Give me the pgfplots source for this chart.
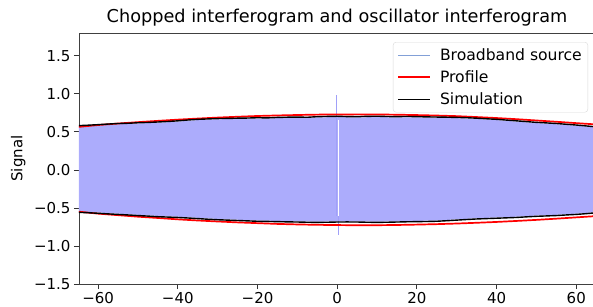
\documentclass[border=0pt]{standalone}
\usepackage{fontspec}
\setmainfont{DejaVu Sans}
\usepackage{pgfplots}
\pgfplotsset{compat=1.18}
\definecolor{bbfill}{RGB}{172,172,252}
\definecolor{bbspike}{RGB}{160,160,248}
\definecolor{bbline}{RGB}{130,160,215}
\definecolor{prof}{RGB}{255,0,0}
\begin{document}
\begin{tikzpicture}
\begin{axis}[
  at={(0,0)}, anchor=south west,
  scale only axis, width=516pt, height=251pt,
  xmin=-64.8, xmax=64.7, ymin=-1.5, ymax=1.8,
  xtick={-60,-40,-20,0,20,40,60},
  xticklabels={−60,−40,−20,0,20,40,60},
  ytick={-1.5,-1,-0.5,0,0.5,1,1.5},
  yticklabels={−1.5,−1.0,−0.5,0.0,0.5,1.0,1.5},
  tick align=outside, tick pos=left,
  major tick length=5pt,
  tick style={black!80, line width=0.8pt},
  axis line style={black!75, line width=0.8pt},
  ticklabel style={font=\fontsize{15}{18}\selectfont},
  title={Chopped interferogram and oscillator interferogram},
  title style={font=\fontsize{17.7}{20}\selectfont, at={(0.5,1)}, anchor=base, yshift=5pt, inner sep=0pt},
  ylabel={Signal},
  ylabel style={font=\fontsize{15}{18}\selectfont, at={(axis description cs:-0.118,0.5)}, anchor=center},
  legend cell align=left,
  legend style={at={(1,1)}, anchor=north east, xshift=-7pt, yshift=-9pt, draw=black!15, rounded corners=3pt,
    font=\fontsize{15.6}{18}\selectfont, row sep=5pt, inner xsep=4pt, inner ysep=4pt},
]
% Broadband source (dense fringes, drawn as their filled span)
\addplot[fill=bbfill, draw=none, forget plot] coordinates {
(-66,0.565) (-65,0.565) (-60,0.585) (-55,0.60) (-50,0.61) (-45,0.62) (-40,0.635) (-35,0.655) (-30,0.665)
(-25,0.67) (-20,0.675) (-15,0.68) (-10,0.685) (-5,0.69) (0,0.695) (5,0.69) (10,0.695) (15,0.69) (20,0.69)
(25,0.685) (30,0.68) (35,0.67) (40,0.655) (45,0.635) (50,0.615) (55,0.60) (60,0.58) (65,0.56) (66,0.56)
(66,-0.555) (65,-0.555) (60,-0.575) (55,-0.59) (50,-0.60) (45,-0.615) (40,-0.625) (35,-0.635) (30,-0.65)
(25,-0.665) (20,-0.67) (15,-0.675) (10,-0.68) (5,-0.675) (0,-0.675) (-5,-0.68) (-10,-0.675) (-15,-0.67)
(-20,-0.665) (-25,-0.655) (-30,-0.645) (-35,-0.63) (-40,-0.615) (-45,-0.605) (-50,-0.59) (-55,-0.575)
(-60,-0.56) (-65,-0.55) (-66,-0.55)
} -- cycle;
\addplot[bbspike, line width=1.2pt, forget plot] coordinates {(-0.25,-0.6) (-0.25,0.98)};
\addplot[bbspike, line width=1.2pt, forget plot] coordinates {(0.3,-0.85) (0.3,-0.6)};
\addplot[white, line width=0.8pt, forget plot] coordinates {(0.25,-0.6) (0.25,0.66)};
% Profile
\addplot[draw=prof, line width=1.7pt, forget plot] coordinates {
(-65,0.565) (-60,0.590) (-55,0.610) (-50,0.628) (-45,0.645) (-40,0.661) (-35,0.675) (-30,0.688) (-25,0.699)
(-20,0.709) (-15,0.716) (-10,0.722) (-5,0.727) (0,0.729) (5,0.730) (10,0.729) (15,0.726) (20,0.721)
(25,0.715) (30,0.707) (35,0.695) (40,0.682) (45,0.667) (50,0.650) (55,0.633) (60,0.615) (65,0.598)
};
\addplot[draw=prof, line width=1.7pt, forget plot] coordinates {
(-65,-0.548) (-60,-0.575) (-55,-0.595) (-50,-0.615) (-45,-0.632) (-40,-0.650) (-35,-0.665) (-30,-0.678)
(-25,-0.690) (-20,-0.700) (-15,-0.710) (-10,-0.717) (-5,-0.722) (0,-0.725) (5,-0.728) (10,-0.727)
(15,-0.724) (20,-0.719) (25,-0.713) (30,-0.705) (35,-0.695) (40,-0.684) (45,-0.671) (50,-0.657)
(55,-0.641) (60,-0.624) (65,-0.607)
};
% Simulation
\addplot[draw=black, line width=1.4pt, forget plot] coordinates {
(-65,0.582) (-62.5,0.588) (-60,0.595) (-57.5,0.603) (-55,0.610) (-52.5,0.613) (-50,0.620) (-47.5,0.624)
(-45,0.630) (-42.5,0.637) (-40,0.645) (-37.5,0.656) (-35,0.665) (-32.5,0.670) (-30,0.675) (-27.5,0.677)
(-25,0.680) (-22.5,0.682) (-20,0.686) (-17.5,0.684) (-15,0.690) (-12.5,0.693) (-10,0.695) (-7.5,0.692)
(-5,0.700) (-2.5,0.703) (0,0.705) (2.5,0.701) (5,0.700) (7.5,0.704) (10,0.706) (12.5,0.702) (15,0.700)
(17.5,0.703) (20,0.700) (22.5,0.697) (25,0.695) (27.5,0.693) (30,0.690) (32.5,0.686) (35,0.680)
(37.5,0.672) (40,0.665) (42.5,0.655) (45,0.645) (47.5,0.635) (50,0.625) (52.5,0.618) (55,0.610)
(57.5,0.600) (60,0.590) (62.5,0.578) (65,0.566)
};
\addplot[draw=black, line width=1.4pt, forget plot] coordinates {
(-65,-0.558) (-62.5,-0.563) (-60,-0.570) (-57.5,-0.578) (-55,-0.585) (-52.5,-0.592) (-50,-0.600)
(-47.5,-0.607) (-45,-0.615) (-42.5,-0.620) (-40,-0.625) (-37.5,-0.632) (-35,-0.640) (-32.5,-0.648)
(-30,-0.655) (-27.5,-0.660) (-25,-0.665) (-22.5,-0.670) (-20,-0.675) (-17.5,-0.677) (-15,-0.680)
(-12.5,-0.683) (-10,-0.685) (-7.5,-0.688) (-5,-0.690) (-2.5,-0.688) (0,-0.685) (2.5,-0.684) (5,-0.685)
(7.5,-0.688) (10,-0.690) (12.5,-0.688) (15,-0.685) (17.5,-0.682) (20,-0.680) (22.5,-0.678) (25,-0.675)
(27.5,-0.668) (30,-0.660) (32.5,-0.652) (35,-0.645) (37.5,-0.640) (40,-0.635) (42.5,-0.630) (45,-0.625)
(47.5,-0.617) (50,-0.610) (52.5,-0.605) (55,-0.600) (57.5,-0.592) (60,-0.585) (62.5,-0.575) (65,-0.563)
};
\addlegendimage{legend image code/.code={\path[draw=none] (0pt,0pt) -- (40pt,0pt);\draw[bbline, line width=0.7pt] (0pt,0pt) -- (32pt,0pt);}}
\addlegendentry{Broadband source}
\addlegendimage{legend image code/.code={\path[draw=none] (0pt,0pt) -- (40pt,0pt);\draw[prof, line width=1.7pt] (0pt,0pt) -- (32pt,0pt);}}
\addlegendentry{Profile}
\addlegendimage{legend image code/.code={\path[draw=none] (0pt,0pt) -- (40pt,0pt);\draw[black, line width=1.4pt] (0pt,0pt) -- (32pt,0pt);}}
\addlegendentry{Simulation}
\end{axis}
\pgfresetboundingbox
\path[use as bounding box] (-79pt,-22pt) rectangle (514pt,284pt);
\end{tikzpicture}
\end{document}
